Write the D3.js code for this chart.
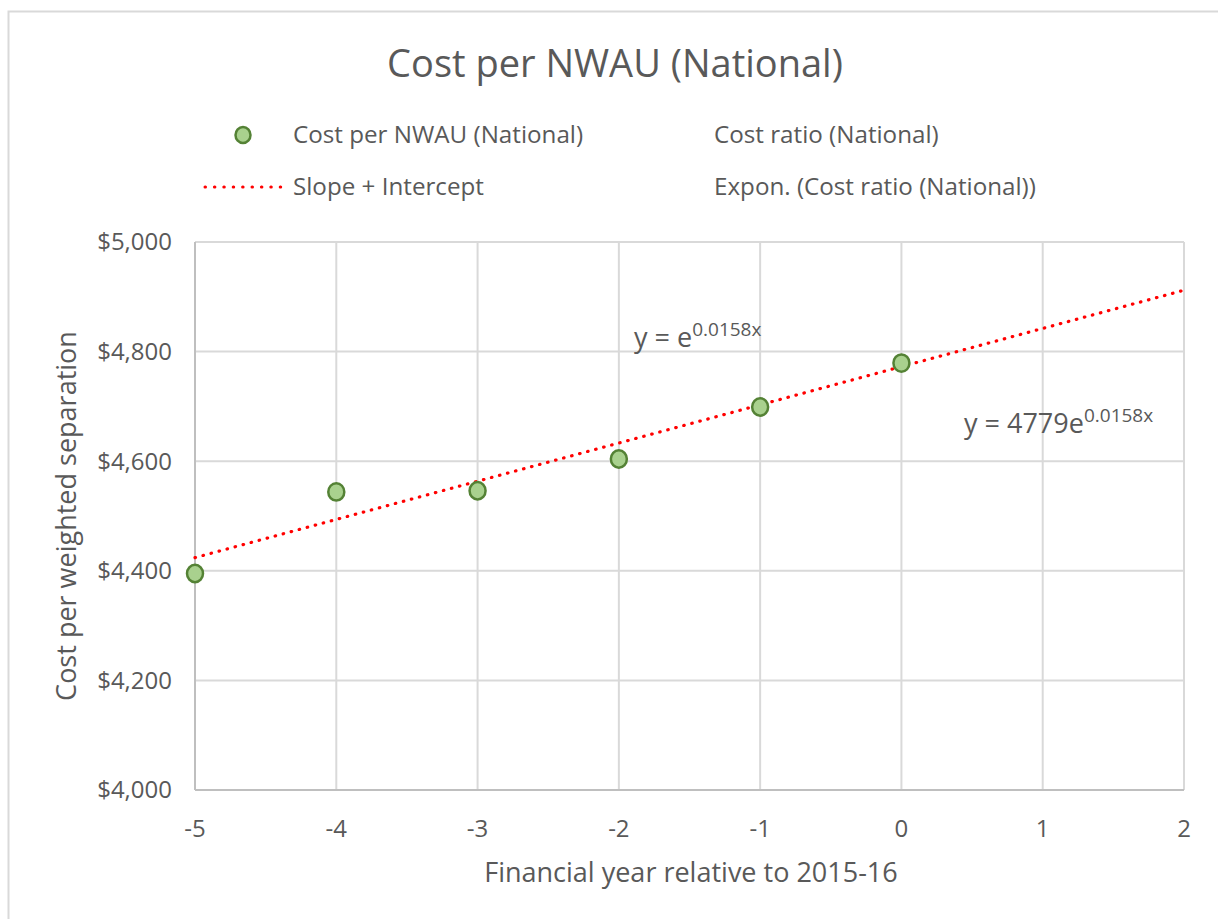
<!DOCTYPE html>
<html>
<head>
<meta charset="utf-8">
<script src="https://cdn.jsdelivr.net/npm/d3@7"></script>
<style>
  body { margin: 0; background: #fff; }
  text { font-family: "Open Sans", Lato, sans-serif; fill: #595959; }
</style>
</head>
<body>
<div id="chart"></div>
<script>
// data
var years = [-5, -4, -3, -2, -1, 0];
var costs = [4395, 4544, 4546, 4604, 4699, 4779];
var trendX = [-5, 2];
var trendY = [4424, 4912];
var xTicks = [-5, -4, -3, -2, -1, 0, 1, 2];
var yTicks = [4000, 4200, 4400, 4600, 4800, 5000];

var width = 1218, height = 919;
var margin = {top: 242, right: 34, bottom: 129, left: 195};

var svg = d3.select("#chart").append("svg")
	.attr("width", width)
	.attr("height", height);

// outer chart frame
svg.append("rect")
	.attr("x", 8.5).attr("y", 11.5)
	.attr("width", 1220).attr("height", 930)
	.attr("fill", "none")
	.attr("stroke", "#d9d9d9")
	.attr("stroke-width", 2);

var x = d3.scaleLinear().domain([-5, 2]).range([margin.left, width - margin.right]);
var y = d3.scaleLinear().domain([4000, 5000]).range([height - margin.bottom, margin.top]);

// gridlines
svg.append("g").selectAll("line.h")
	.data(yTicks)
	.enter().append("line")
	.attr("x1", x(-5)).attr("x2", x(2))
	.attr("y1", d => y(d)).attr("y2", d => y(d))
	.attr("stroke", "#d9d9d9").attr("stroke-width", 2);

svg.append("g").selectAll("line.v")
	.data(xTicks)
	.enter().append("line")
	.attr("x1", d => x(d)).attr("x2", d => x(d))
	.attr("y1", y(5000)).attr("y2", y(4000))
	.attr("stroke", d => d === -5 ? "#bfbfbf" : "#d9d9d9").attr("stroke-width", 2);

// x axis line
svg.append("line")
	.attr("x1", x(-5)).attr("x2", x(2))
	.attr("y1", y(4000)).attr("y2", y(4000))
	.attr("stroke", "#bfbfbf").attr("stroke-width", 2);

// tick labels
var fmt = d3.format("$,");
svg.append("g").selectAll("text")
	.data(yTicks)
	.enter().append("text")
	.attr("x", 172)
	.attr("y", d => y(d))
	.attr("dy", "0.35em")
	.attr("text-anchor", "end")
	.style("font-size", "24px")
	.text(d => fmt(d));

svg.append("g").selectAll("text")
	.data(xTicks)
	.enter().append("text")
	.attr("x", d => x(d))
	.attr("y", y(4000) + 47)
	.attr("text-anchor", "middle")
	.style("font-size", "24px")
	.text(d => d);

// axis titles
svg.append("text")
	.attr("transform", "translate(76," + ((y(4000) + y(5000)) / 2) + ") rotate(-90)")
	.attr("text-anchor", "middle")
	.style("font-size", "27px")
	.text("Cost per weighted separation");

svg.append("text")
	.attr("x", 691).attr("y", 882)
	.attr("text-anchor", "middle")
	.style("font-size", "27px")
	.text("Financial year relative to 2015-16");

// title
svg.append("text")
	.attr("x", 615).attr("y", 77)
	.attr("text-anchor", "middle")
	.style("font-size", "38px")
	.text("Cost per NWAU (National)");

// trend line (Slope + Intercept)
var line = d3.line().x(d => x(d[0])).y(d => y(d[1]));
svg.append("path")
	.datum(d3.zip(trendX, trendY))
	.attr("d", line)
	.attr("fill", "none")
	.attr("stroke", "#ff0000")
	.attr("stroke-width", 3.2)
	.attr("stroke-linecap", "round")
	.attr("stroke-dasharray", "0.5,7.8");

// points
svg.append("g").selectAll("ellipse")
	.data(d3.zip(years, costs))
	.enter().append("ellipse")
	.attr("cx", d => x(d[0]))
	.attr("cy", d => y(d[1]))
	.attr("rx", 8).attr("ry", 8.7)
	.attr("fill", "#a9d18e")
	.attr("stroke", "#548235")
	.attr("stroke-width", 2.5);

// equation labels
function equation(px, py, base) {
	var t = svg.append("text")
		.attr("x", px).attr("y", py)
		.style("font-size", "27px");
	t.append("tspan").text(base);
	t.append("tspan")
		.attr("dy", -11)
		.style("font-size", "19px")
		.text("0.0158x");
}
equation(634, 347, "y = e");
equation(964, 433, "y = 4779e");

// legend
var legend = svg.append("g").style("font-size", "24.2px");
legend.append("ellipse")
	.attr("cx", 243).attr("cy", 135)
	.attr("rx", 7.5).attr("ry", 8)
	.attr("fill", "#a9d18e")
	.attr("stroke", "#548235")
	.attr("stroke-width", 2.5);
legend.append("line")
	.attr("x1", 205).attr("x2", 281)
	.attr("y1", 187).attr("y2", 187)
	.attr("stroke", "#ff0000")
	.attr("stroke-width", 3)
	.attr("stroke-linecap", "round")
	.attr("stroke-dasharray", "0.5,8.9");

var legendItems = [
	{label: "Cost per NWAU (National)", lx: 293, ly: 135},
	{label: "Cost ratio (National)", lx: 714, ly: 135},
	{label: "Slope + Intercept", lx: 293, ly: 187},
	{label: "Expon. (Cost ratio (National))", lx: 714, ly: 187}
];
legend.selectAll("text")
	.data(legendItems)
	.enter().append("text")
	.attr("x", d => d.lx).attr("y", d => d.ly)
	.attr("dy", "0.35em")
	.text(d => d.label);
</script>
</body>
</html>
